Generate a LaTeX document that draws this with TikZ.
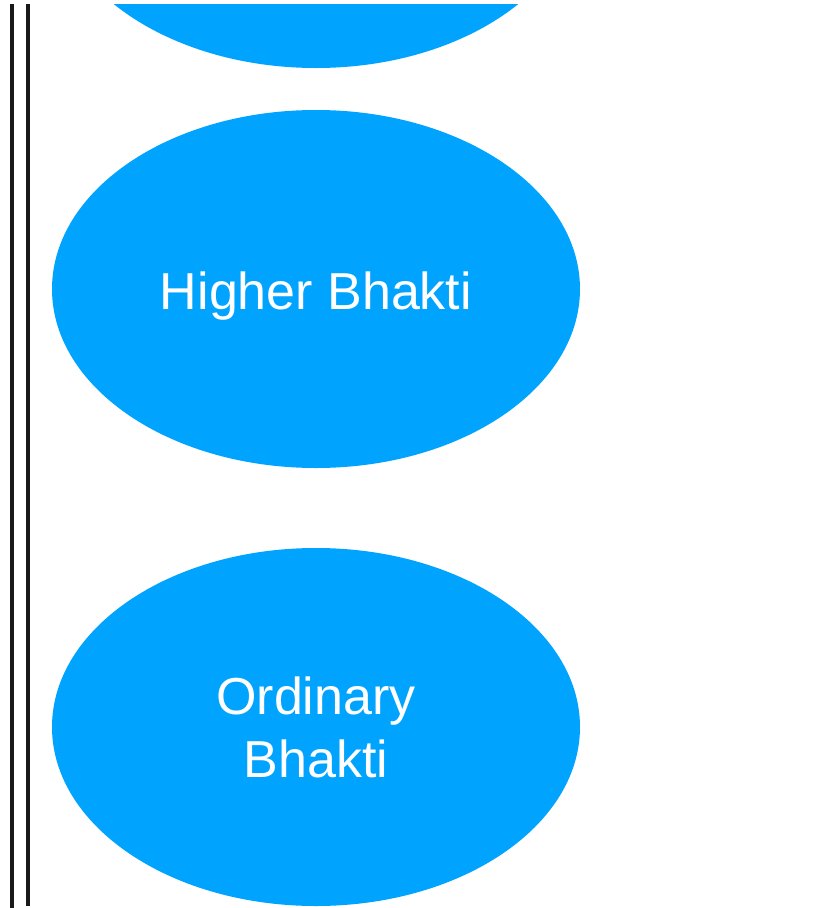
\documentclass[tikz,border=0pt]{standalone}
\usepackage{fontspec}
\setmainfont{Liberation Sans}
\usetikzlibrary{shapes.geometric}
\definecolor{bhaktiblue}{RGB}{0,164,255}
\begin{document}
\begin{tikzpicture}[
      x=1pt, y=-1pt,
      level/.style={ellipse, fill=bhaktiblue, draw=none, inner sep=0pt,
        minimum width=528pt, minimum height=358pt, text=white,
        align=center, font=\fontsize{52}{63}\selectfont}
    ]
    % page
    \useasboundingbox (0, 0) rectangle (819, 908);
    \fill [white] (0, 0) rectangle (819, 908);

    % double rule
    \draw [line width=3.5pt, black!90] (12, 4) -- (12, 908);
    \draw [line width=3.5pt, black!90] (28, 4) -- (28, 906);

    % levels
    \begin{scope}
      \clip (0, 4) rectangle (819, 908);
      \node [level] (top) at (316, -111) {};
    \end{scope}
    \node [level] (higher) at (316, 289) {\raisebox{-7pt}[\height][\depth]{Higher Bhakti}};
    \node [level] (ordinary) at (316, 727) {Ordinary\\Bhakti};
  \end{tikzpicture}
\end{document}
